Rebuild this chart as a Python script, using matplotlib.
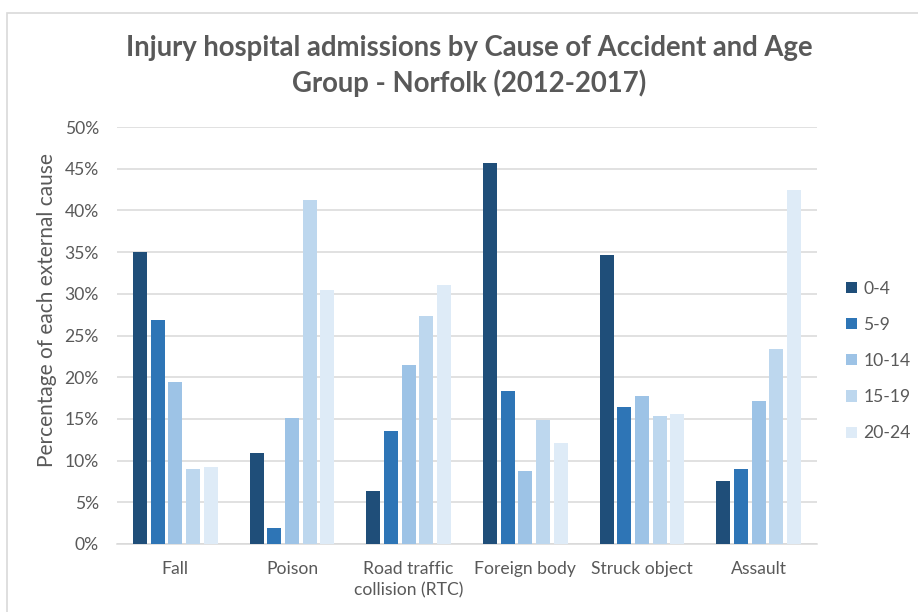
import matplotlib.pyplot as plt
import matplotlib.patches as mpatches
import numpy as np

# data (percent of each external cause)
causes = ["Fall", "Poison", "Road traffic\ncollision (RTC)", "Foreign body", "Struck object", "Assault"]
age_groups = ["0-4", "5-9", "10-14", "15-19", "20-24"]
age_0_4 = [35.0, 10.9, 6.3, 45.7, 34.7, 7.6]
age_5_9 = [26.9, 1.9, 13.5, 18.3, 16.4, 9.0]
age_10_14 = [19.4, 15.1, 21.5, 8.8, 17.7, 17.2]
age_15_19 = [9.0, 41.2, 27.3, 14.9, 15.3, 23.4]
age_20_24 = [9.2, 30.5, 31.0, 12.1, 15.6, 42.4]
colors = ["#1F4E79", "#2E75B6", "#9DC3E6", "#BDD7EE", "#DEEBF7"]

series = [age_0_4, age_5_9, age_10_14, age_15_19, age_20_24]
grey = "#595959"

plt.rcParams['font.family'] = ['Lato', 'DejaVu Sans']

fig = plt.figure(figsize=(9.18, 6.12), dpi=100)
ax = fig.add_axes([117 / 918, 1 - 544 / 612, 700 / 918, 417 / 612])

x = np.arange(len(causes))
step = 0.1515
width = 0.12
for i, (vals, c, lab) in enumerate(zip(series, colors, age_groups)):
    ax.bar(x + (i - 2) * step, vals, width=width, color=c, label=lab, zorder=3)

ax.set_xlim(-0.5, len(causes) - 0.5)
ax.set_ylim(0, 50)
ax.set_yticks(np.arange(0, 51, 5))
ax.set_yticklabels([f"{v}%" for v in range(0, 51, 5)])
ax.yaxis.grid(True, color="#D9D9D9", linewidth=1.1, zorder=0)
ax.set_axisbelow(True)
for s in ["top", "right", "left"]:
    ax.spines[s].set_visible(False)
ax.spines["bottom"].set_color("#D9D9D9")
ax.spines["bottom"].set_linewidth(1.1)
ax.set_xticks(x)
ax.set_xticklabels(causes)
ax.tick_params(axis="both", length=0, labelsize=12.6, colors=grey)
ax.tick_params(axis="y", pad=13)
ax.tick_params(axis="x", pad=12)
for lbl in ax.get_xticklabels():
    lbl.set_linespacing(1.4)

fig.text(47 / 918, 1 - 310 / 612, "Percentage of each external cause", rotation=90,
         ha="center", va="center", fontsize=15, color=grey)

fig.text(469 / 918, 1 - 66 / 612,
         "Injury hospital admissions by Cause of Accident and Age\nGroup - Norfolk (2012-2017)",
         ha="center", va="center", fontsize=19.8, fontweight="bold", color=grey,
         linespacing=1.4)

fig.legend(loc="center left", bbox_to_anchor=(846 / 918, 1 - 361 / 612), frameon=False,
           borderpad=0, borderaxespad=0,
           fontsize=12.6, labelcolor=grey, handlelength=0.6, handleheight=0.6,
           handletextpad=0.4, labelspacing=1.15)

# light chart border like the Excel frame
fig.patches.append(mpatches.Rectangle((7 / 918, -0.1), 1.2, 1 - 13 / 612 + 0.1,
                                      transform=fig.transFigure, fill=False,
                                      edgecolor="#D9D9D9", linewidth=1.2))

fig.savefig("out.png", dpi=100)
